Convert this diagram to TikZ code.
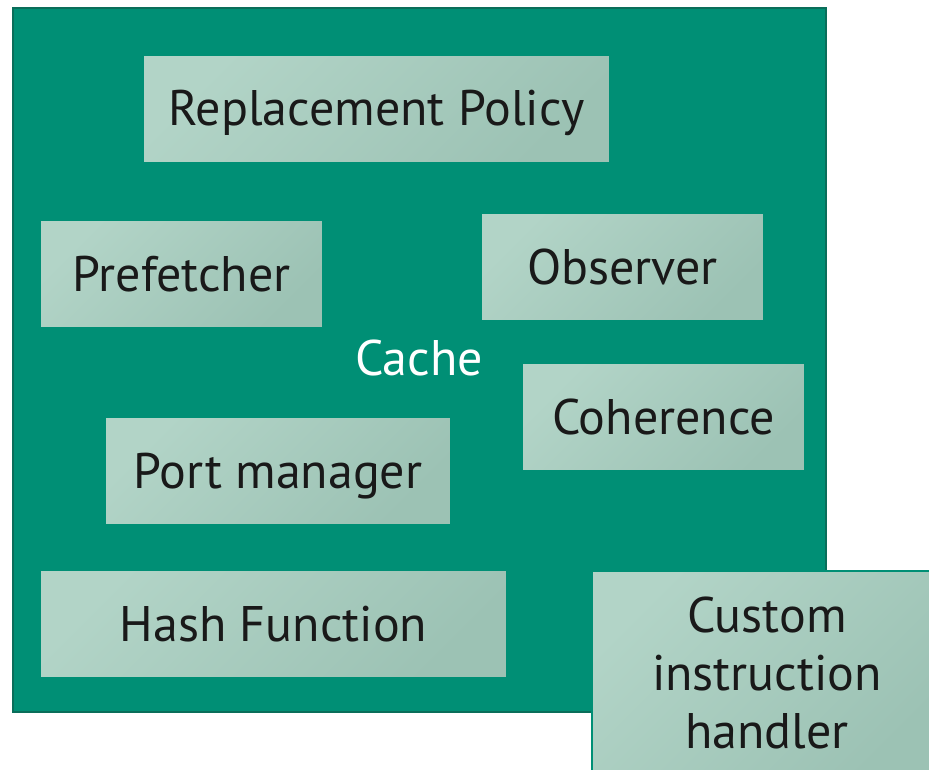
\documentclass[tikz,border=0pt]{standalone}
\usepackage{fontspec}
\setmainfont{PT Sans}
\definecolor{cachegreen}{RGB}{0,143,117}
\definecolor{cacheedge}{RGB}{10,110,90}
\definecolor{boxlight}{RGB}{178,212,199}
\definecolor{boxdark}{RGB}{156,194,180}
\begin{document}
\begin{tikzpicture}
        [x=1pt, y=-1pt, font=\fontsize{50}{58}\selectfont,
        part/.style={rectangle, draw=cachegreen, line width=1.5pt, left color=boxlight, right color=boxdark, shading angle=45, text=black!90, align=center, minimum height=108pt, text height=37pt, text depth=3pt},
        cachebox/.style={rectangle, fill=cachegreen, draw=cacheedge, line width=1.5pt}]

        \useasboundingbox (0,0) rectangle (929,770);
        \clip (0,0) rectangle (929,770);

        % the cache itself
        \draw[cachebox] (13,8) rectangle (826,712);
        \node[text=white] (cache) at (419,358) {Cache};

        % parts of the cache
        \node[part, minimum width=467pt] (policy) at (376.5,109) {Replacement Policy};
        \node[part, minimum width=283pt] (prefetch) at (181.5,274) {Prefetcher};
        \node[part, minimum width=283pt] (observer) at (622.5,267) {Observer};
        \node[part, minimum width=283pt] (coherence) at (663.5,417) {Coherence};
        \node[part, minimum width=346pt] (port) at (278,471) {Port manager};
        \node[part, minimum width=467pt] (hash) at (273.5,624) {Hash Function};

        % sticks out of the cache
        \node[part, text height=, text depth=, minimum width=350pt, minimum height=204pt] (custom) at (767,673) {Custom\\instruction\\handler};

    \end{tikzpicture}
\end{document}
